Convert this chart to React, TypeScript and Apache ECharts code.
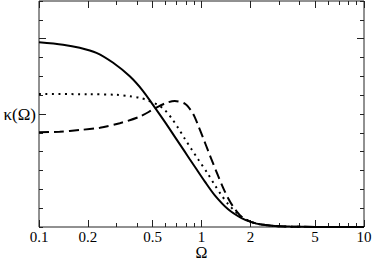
import React, { useEffect, useRef } from "react";
import * as echarts from "echarts";

// Ω tick values (log axis)
const OMEGA_MAJOR = [0.1, 0.2, 0.5, 1, 2, 5, 10];
const OMEGA_MINOR = [0.3, 0.4, 0.6, 0.7, 0.8, 0.9, 3, 4, 6, 7, 8, 9];
// κ tick values
const KAPPA_TICKS = [0, 0.1, 0.2, 0.3, 0.4, 0.5, 0.6, 0.7, 0.8, 0.9, 1.0, 1.1, 1.2];
const KAPPA_MAJOR_LEFT = [0.6, 1.0];
const KAPPA_MAJOR_RIGHT = [1.0];

// solid curve
const solidOmega = [0.1, 0.1406, 0.178, 0.2257, 0.286, 0.362, 0.437, 0.504, 0.595, 0.684, 0.789, 0.847, 0.91, 1.049, 1.208, 1.459, 1.765, 2.03, 2.34, 2.83, 3.5, 5, 10];
const solidKappa = [0.981, 0.968, 0.952, 0.925, 0.872, 0.8, 0.722, 0.647, 0.558, 0.48, 0.4, 0.36, 0.32, 0.241, 0.168, 0.094, 0.047, 0.026, 0.013, 0.005, 0.002, 0.0005, 0];

// dotted curve
const dottedOmega = [0.1, 0.2, 0.3, 0.362, 0.417, 0.469, 0.54, 0.595, 0.654, 0.718, 0.789, 0.868, 0.953, 1.099, 1.208, 1.329, 1.459, 1.603, 1.765, 2.03, 2.34, 2.83, 3.5, 5, 10];
const dottedKappa = [0.706, 0.705, 0.702, 0.694, 0.686, 0.672, 0.648, 0.621, 0.578, 0.526, 0.469, 0.413, 0.36, 0.28, 0.222, 0.168, 0.122, 0.085, 0.054, 0.027, 0.013, 0.005, 0.002, 0.0005, 0];

// dashed curve
const dashedOmega = [0.1, 0.134, 0.178, 0.237, 0.314, 0.417, 0.504, 0.595, 0.684, 0.789, 0.868, 0.91, 0.953, 1.024, 1.099, 1.18, 1.266, 1.359, 1.459, 1.566, 1.68, 1.765, 2.03, 2.34, 2.83, 3.5, 5, 10];
const dashedKappa = [0.503, 0.506, 0.515, 0.527, 0.551, 0.586, 0.624, 0.656, 0.669, 0.655, 0.615, 0.582, 0.54, 0.472, 0.404, 0.336, 0.271, 0.208, 0.153, 0.108, 0.074, 0.054, 0.026, 0.013, 0.005, 0.002, 0.0005, 0];

const FONT = "Liberation Serif";
const INK = "#222";

export default function App() {
  const ref = useRef<HTMLDivElement>(null);
  useEffect(() => {
    document.body.style.margin = "0";
    if (!ref.current) return;
    const chart = echarts.init(ref.current, undefined, { renderer: "svg" });
    const lg = (v: number) => Math.log10(v);
    const pts = (xs: number[], ys: number[]) => xs.map((x, i) => [lg(x), ys[i]]);
    const xBase = (extra: any) => ({
      type: "value",
      min: -1,
      max: 1,
      splitLine: { show: false },
      axisLine: { show: false, onZero: false },
      axisLabel: { show: false },
      ...extra,
    });
    const yBase = (extra: any) => ({
      type: "value",
      min: 0,
      max: 1.2,
      splitLine: { show: false },
      axisLine: { show: false, onZero: false },
      axisLabel: { show: false },
      ...extra,
    });
    const tick = (vals: number[], len: number) => ({
      show: true,
      inside: true,
      length: len,
      customValues: vals,
      lineStyle: { color: INK, width: 1 },
    });
    chart.setOption({
      animation: false,
      backgroundColor: "#fff",
      textStyle: { fontFamily: FONT },
      grid: {
        left: 39,
        right: 10,
        top: 1,
        bottom: 33,
        containLabel: false,
        outerBoundsMode: "none",
        show: true,
        borderColor: INK,
        borderWidth: 1,
        backgroundColor: "transparent",
      },
      xAxis: [
        xBase({
          position: "bottom",
          axisTick: tick(OMEGA_MAJOR.map(lg), 7),
          axisLabel: {
            show: true,
            customValues: OMEGA_MAJOR.map(lg),
            formatter: (v: number) => String(+Math.pow(10, v).toPrecision(2)),
            fontFamily: FONT,
            fontSize: 15,
            lineHeight: 12,
            color: "#000",
            margin: 4,
          },
          name: "Ω",
          nameLocation: "middle",
          nameGap: 19,
          nameMoveOverlap: false,
          nameTextStyle: { fontFamily: FONT, fontSize: 16, lineHeight: 13, color: "#000" },
        }),
        xBase({ position: "bottom", axisTick: tick(OMEGA_MINOR.map(lg), 4) }),
        xBase({ position: "top", axisTick: tick(OMEGA_MAJOR.map(lg), 7) }),
        xBase({ position: "top", axisTick: tick(OMEGA_MINOR.map(lg), 4) }),
      ],
      yAxis: [
        yBase({
          position: "left",
          axisTick: tick(KAPPA_TICKS, 4),
          name: "κ(Ω)",
          nameLocation: "middle",
          nameRotate: 0,
          nameGap: 3,
          nameMoveOverlap: false,
          nameTextStyle: { fontFamily: FONT, fontSize: 17, color: "#000", align: "right", verticalAlign: "middle" },
        }),
        yBase({ position: "left", axisTick: tick(KAPPA_MAJOR_LEFT, 7) }),
        yBase({ position: "right", axisTick: tick(KAPPA_TICKS, 4) }),
        yBase({ position: "right", axisTick: tick(KAPPA_MAJOR_RIGHT, 7) }),
      ],
      series: [
        {
          type: "line",
          name: "dashed",
          data: pts(dashedOmega, dashedKappa),
          showSymbol: false,
          smooth: 0.3,
          lineStyle: { color: "#000", width: 2, type: [10, 5] },
        },
        {
          type: "line",
          name: "dotted",
          data: pts(dottedOmega, dottedKappa),
          showSymbol: false,
          smooth: 0.3,
          lineStyle: { color: "#000", width: 2, type: [2, 4.5] },
        },
        {
          type: "line",
          name: "solid",
          data: pts(solidOmega, solidKappa),
          showSymbol: false,
          smooth: 0.3,
          lineStyle: { color: "#000", width: 2, type: "solid" },
        },
      ],
    });
    return () => chart.dispose();
  }, []);
  return <div ref={ref} style={{ width: 374, height: 260, position: "absolute", left: 0, top: 0 }} />;
}
